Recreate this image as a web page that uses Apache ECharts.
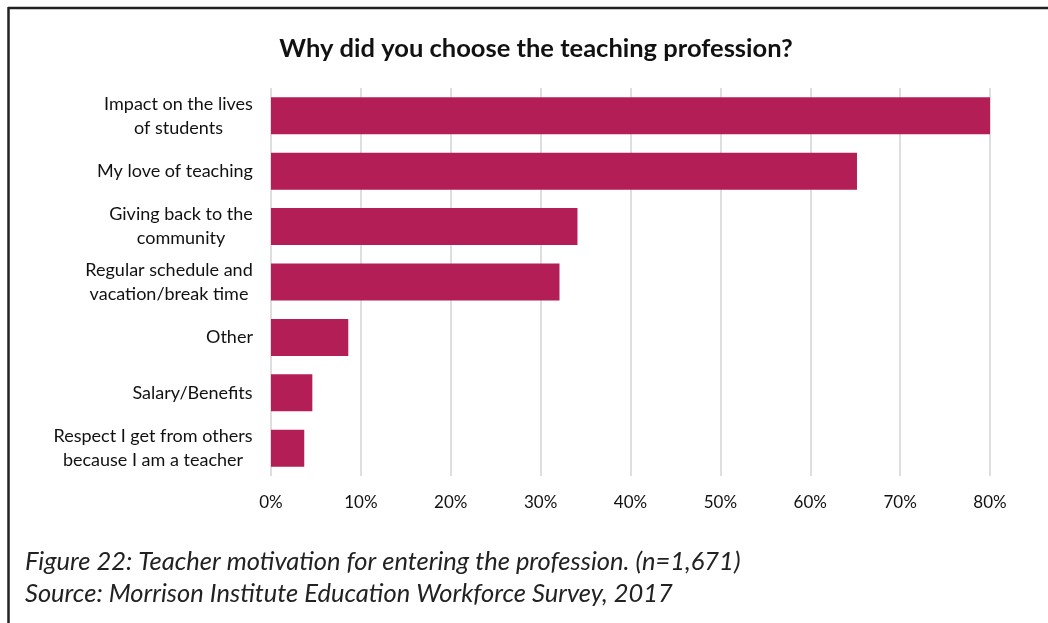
<!DOCTYPE html>
<html>
<head>
<meta charset="utf-8">
<script src="https://cdn.jsdelivr.net/npm/echarts@6/dist/echarts.min.js"></script>
<style>
  html, body { margin: 0; padding: 0; background: #fff; }
  #chart { width: 1048px; height: 623px; }
</style>
</head>
<body>
<div id="chart"></div>
<script>
const categories = [
    'Impact on the lives\nof students',
    'My love of teaching',
    'Giving back to the\ncommunity',
    'Regular schedule and\nvacation/break time',
    'Other',
    'Salary/Benefits',
    'Respect I get from others\nbecause I am a teacher'
]
const values = [80.0, 65.2, 34.1, 32.1, 8.6, 4.6, 3.7]
const tickValues = [0, 10, 20, 30, 40, 50, 60, 70, 80]
const captionLines = [
    'Figure 22: Teacher motivation for entering the profession. (n=1,671)',
    'Source: Morrison Institute Education Workforce Survey, 2017'
]

const FONT = 'Lato'
const labelFontSize = 18

// measure widest line so each label block can be centred line by line
const ctx = document.createElement('canvas').getContext('2d')
ctx.font = labelFontSize + 'px ' + FONT
function blockWidth(text) {
    return Math.ceil(Math.max(...text.split('\n').map(s => ctx.measureText(s).width)))
}

// one rich style per label width: lines centred inside the block
const rich = {}
categories.forEach(c => {
    const w = blockWidth(c)
    rich['b' + w] = {
        width: w,
        align: 'center',
        fontFamily: FONT,
        fontSize: labelFontSize,
        lineHeight: 24,
        color: '#111'
    }
})

const myChart = echarts.init(document.getElementById('chart'))

const option = {
    animation: false,
    title: {
        text: 'Why did you choose the teaching profession?',
        left: 531,
        textAlign: 'center',
        top: 31,
        textStyle: {
            fontFamily: FONT,
            fontSize: 25.5,
            fontWeight: 'bold',
            color: '#111'
        }
    },
    grid: {
        left: 271,
        right: 58,
        top: 88,
        bottom: 147,
        containLabel: false
    },
    xAxis: {
        type: 'value',
        min: 0,
        max: 80,
        interval: 10,
        axisLine: { show: false },
        axisTick: { show: false },
        splitLine: {
            lineStyle: { color: '#dedede', width: 2 }
        },
        axisLabel: {
            margin: 18,
            color: '#111',
            fontFamily: FONT,
            fontSize: 17,
            formatter(v) {
                return tickValues.includes(v) ? v + '%' : ''
            }
        }
    },
    yAxis: {
        type: 'category',
        inverse: true,
        data: categories,
        axisLine: { show: false },
        axisTick: { show: false },
        axisLabel: {
            margin: 18,
            formatter(v) {
                const w = blockWidth(v)
                return v.split('\n').map(s => '{b' + w + '|' + s + '}').join('\n')
            },
            rich: rich
        }
    },
    series: [
        {
            type: 'bar',
            data: values,
            barWidth: 37,
            itemStyle: { color: '#b41e57' }
        }
    ],
    graphic: [
        {
            type: 'line',
            shape: { x1: 8, y1: 8, x2: 1048, y2: 8 },
            style: { stroke: '#222', lineWidth: 2.5 }
        },
        {
            type: 'line',
            shape: { x1: 8.5, y1: 7, x2: 8.5, y2: 623 },
            style: { stroke: '#222', lineWidth: 2.5 }
        },
        {
            type: 'text',
            left: 25,
            top: 546,
            style: {
                text: captionLines.join('\n'),
                fontFamily: FONT,
                fontStyle: 'italic',
                fontSize: 25.5,
                lineHeight: 32,
                fill: '#222'
            }
        }
    ]
}

myChart.setOption(option)
</script>
</body>
</html>
